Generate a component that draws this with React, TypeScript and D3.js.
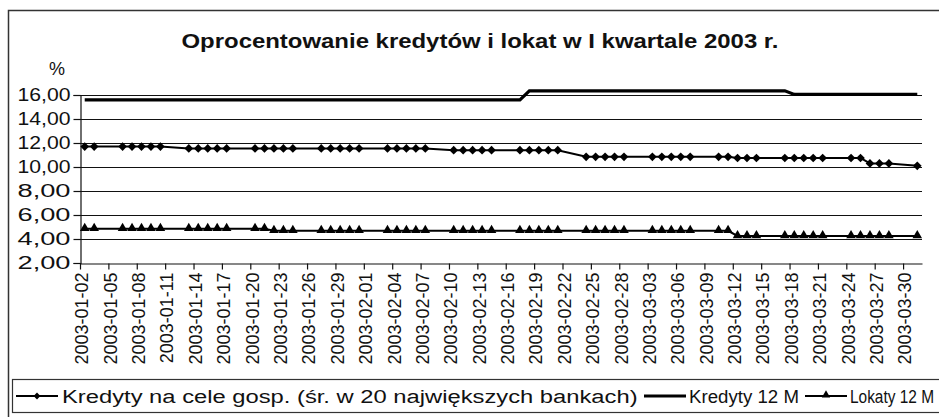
import React, { useRef, useEffect } from "react";
import * as d3 from "d3";

// business days of Q1 2003
const days = [
  "2003-01-02", "2003-01-03", "2003-01-06", "2003-01-07", "2003-01-08", "2003-01-09", "2003-01-10",
  "2003-01-13", "2003-01-14", "2003-01-15", "2003-01-16", "2003-01-17",
  "2003-01-20", "2003-01-21", "2003-01-22", "2003-01-23", "2003-01-24",
  "2003-01-27", "2003-01-28", "2003-01-29", "2003-01-30", "2003-01-31",
  "2003-02-03", "2003-02-04", "2003-02-05", "2003-02-06", "2003-02-07",
  "2003-02-10", "2003-02-11", "2003-02-12", "2003-02-13", "2003-02-14",
  "2003-02-17", "2003-02-18", "2003-02-19", "2003-02-20", "2003-02-21",
  "2003-02-24", "2003-02-25", "2003-02-26", "2003-02-27", "2003-02-28",
  "2003-03-03", "2003-03-04", "2003-03-05", "2003-03-06", "2003-03-07",
  "2003-03-10", "2003-03-11", "2003-03-12", "2003-03-13", "2003-03-14",
  "2003-03-17", "2003-03-18", "2003-03-19", "2003-03-20", "2003-03-21",
  "2003-03-24", "2003-03-25", "2003-03-26", "2003-03-27", "2003-03-28",
  "2003-03-31",
];

const kredytyGosp = [
  11.7, 11.7, 11.7, 11.7, 11.7, 11.7, 11.7,
  11.55, 11.55, 11.55, 11.55, 11.55,
  11.55, 11.55, 11.55, 11.55, 11.55,
  11.55, 11.55, 11.55, 11.55, 11.55,
  11.55, 11.55, 11.55, 11.55, 11.55,
  11.4, 11.4, 11.4, 11.4, 11.4,
  11.4, 11.4, 11.4, 11.4, 11.4,
  10.85, 10.85, 10.85, 10.85, 10.85,
  10.85, 10.85, 10.85, 10.85, 10.85,
  10.85, 10.85, 10.75, 10.75, 10.75,
  10.75, 10.75, 10.75, 10.75, 10.75,
  10.75, 10.75, 10.3, 10.3, 10.3,
  10.1,
];

const kredyty12M = [
  15.6, 15.6, 15.6, 15.6, 15.6, 15.6, 15.6,
  15.6, 15.6, 15.6, 15.6, 15.6,
  15.6, 15.6, 15.6, 15.6, 15.6,
  15.6, 15.6, 15.6, 15.6, 15.6,
  15.6, 15.6, 15.6, 15.6, 15.6,
  15.6, 15.6, 15.6, 15.6, 15.6,
  15.6, 16.35, 16.35, 16.35, 16.35,
  16.35, 16.35, 16.35, 16.35, 16.35,
  16.35, 16.35, 16.35, 16.35, 16.35,
  16.35, 16.35, 16.35, 16.35, 16.35,
  16.35, 16.05, 16.05, 16.05, 16.05,
  16.05, 16.05, 16.05, 16.05, 16.05,
  16.05,
];

const lokaty12M = [
  4.85, 4.85, 4.85, 4.85, 4.85, 4.85, 4.85,
  4.85, 4.85, 4.85, 4.85, 4.85,
  4.85, 4.85, 4.68, 4.68, 4.68,
  4.68, 4.68, 4.68, 4.68, 4.68,
  4.68, 4.68, 4.68, 4.68, 4.68,
  4.68, 4.68, 4.68, 4.68, 4.68,
  4.68, 4.68, 4.68, 4.68, 4.68,
  4.68, 4.68, 4.68, 4.68, 4.68,
  4.68, 4.68, 4.68, 4.68, 4.68,
  4.68, 4.68, 4.25, 4.25, 4.25,
  4.25, 4.25, 4.25, 4.25, 4.25,
  4.25, 4.25, 4.25, 4.25, 4.25,
  4.25,
];

const yTicks = [2, 4, 6, 8, 10, 12, 14, 16];

const title = "Oprocentowanie kredytów i lokat w I kwartale 2003 r.";
const seriesNames = [
  "Kredyty na cele gosp. (śr. w 20 największych bankach)",
  "Kredyty 12 M",
  "Lokaty 12 M",
];

const FONT = "'Liberation Sans', Arial, sans-serif";

const App = () => {
  const svgRef = useRef<SVGSVGElement>(null);

  useEffect(() => {
    const svg = d3.select(svgRef.current);
    svg.selectAll("*").remove();

    const width = 939;
    const height = 417;
    const left = 80, right = 922, top = 95, bottom = 263;

    const parse = d3.utcParse("%Y-%m-%d");
    const dates = days.map((d) => parse(d) as Date);
    const start = parse("2003-01-02") as Date;
    const end = parse("2003-04-01") as Date;

    const x = d3.scaleUtc().domain([start, end]).range([left, right]);
    const y = d3.scaleLinear().domain([2, 16]).range([bottom, top]);
    const xc = (d: Date) => x(d3.utcHour.offset(d, 12));

    svg.attr("width", width).attr("height", height).style("font-family", FONT);

    // outer frame
    svg.append("rect")
      .attr("x", 8.5).attr("y", 10.5)
      .attr("width", 960).attr("height", 440)
      .attr("fill", "#fff").attr("stroke", "#333").attr("stroke-width", 1.5);

    svg.append("text")
      .attr("x", 480).attr("y", 48)
      .attr("text-anchor", "middle")
      .attr("font-size", 21).attr("font-weight", "bold")
      .attr("fill", "#111")
      .attr("textLength", 597).attr("lengthAdjust", "spacingAndGlyphs")
      .text(title);

    svg.append("text")
      .attr("x", 57).attr("y", 75)
      .attr("text-anchor", "middle")
      .attr("font-size", 18).attr("fill", "#111")
      .text("%");

    // gridlines
    svg.append("g")
      .selectAll("line")
      .data(yTicks.filter((t) => t > 2))
      .join("line")
      .attr("x1", left).attr("x2", right)
      .attr("y1", (d) => Math.round(y(d)) + 0.5).attr("y2", (d) => Math.round(y(d)) + 0.5)
      .attr("stroke", "#111").attr("stroke-width", 1.2);

    // y axis
    const yAxis = svg.append("g")
      .attr("transform", `translate(${left + 0.5},0)`)
      .call(
        d3.axisLeft(y)
          .tickValues(yTicks)
          .tickSize(7)
          .tickPadding(3)
          .tickFormat((d) => (d as number).toFixed(2).replace(".", ","))
      );
    yAxis.select(".domain").attr("stroke", "#111").attr("stroke-width", 1.2);
    yAxis.selectAll(".tick line").attr("stroke", "#111").attr("stroke-width", 1.2);
    yAxis.selectAll("text")
      .attr("font-size", 18).attr("font-family", FONT).attr("fill", "#111")
      .attr("textLength", 53).attr("lengthAdjust", "spacingAndGlyphs");

    // x axis
    const xTicks = d3.utcDay.range(start, end, 3);
    const xAxis = svg.append("g")
      .attr("transform", `translate(0,${Math.round(bottom) + 0.5})`)
      .call(
        d3.axisBottom(x)
          .tickValues(xTicks)
          .tickSize(6)
          .tickSizeOuter(0)
          .tickFormat((d) => d3.utcFormat("%Y-%m-%d")(d as Date))
      );
    xAxis.select(".domain").attr("stroke", "#111").attr("stroke-width", 1.2);
    xAxis.selectAll(".tick line").attr("stroke", "#111").attr("stroke-width", 1.2);
    xAxis.selectAll("text")
      .attr("font-size", 18).attr("font-family", FONT).attr("fill", "#111")
      .attr("transform", "rotate(-90)")
      .attr("text-anchor", "end")
      .attr("x", -9).attr("y", 1.5).attr("dy", "0.35em");

    // Kredyty 12 M - thick line, no markers
    const line = (vals: number[]) =>
      d3.line<number>().x((_, i) => xc(dates[i])).y((v) => y(v))(vals);

    svg.append("path")
      .attr("d", line(kredyty12M))
      .attr("fill", "none").attr("stroke", "#000").attr("stroke-width", 3.2);

    // Kredyty na cele gosp. - diamonds
    svg.append("path")
      .attr("d", line(kredytyGosp))
      .attr("fill", "none").attr("stroke", "#000").attr("stroke-width", 2);
    const diamond = d3.symbol().type(d3.symbolDiamond2).size(48);
    svg.append("g")
      .selectAll("path")
      .data(kredytyGosp)
      .join("path")
      .attr("transform", (v, i) => `translate(${xc(dates[i])},${y(v)})`)
      .attr("d", diamond())
      .attr("fill", "#000");

    // Lokaty 12 M - triangles
    svg.append("path")
      .attr("d", line(lokaty12M))
      .attr("fill", "none").attr("stroke", "#000").attr("stroke-width", 2);
    const tri = d3.symbol().type(d3.symbolTriangle).size(40);
    svg.append("g")
      .selectAll("path")
      .data(lokaty12M)
      .join("path")
      .attr("transform", (v, i) => `translate(${xc(dates[i])},${y(v) - 0.5})`)
      .attr("d", tri())
      .attr("fill", "#000");

    // legend (narrow font imitated by horizontal scaling)
    const lg = svg.append("g");
    lg.append("rect")
      .attr("x", 12.5).attr("y", 379.5)
      .attr("width", 960).attr("height", 33)
      .attr("fill", "#fff").attr("stroke", "#333").attr("stroke-width", 1.2);

    const ly = 396;
    const items = [
      { x1: 16, x2: 58, tx: 62, tl: 576, sym: "diamond", w: 2 },
      { x1: 644, x2: 686, tx: 689, tl: 110, sym: "none", w: 3 },
      { x1: 805, x2: 847, tx: 850, tl: 84, sym: "tri", w: 2 },
    ];
    items.forEach((it, i) => {
      lg.append("line")
        .attr("x1", it.x1).attr("x2", it.x2).attr("y1", ly).attr("y2", ly)
        .attr("stroke", "#000").attr("stroke-width", it.w);
      if (it.sym === "diamond") {
        lg.append("path")
          .attr("transform", `translate(${(it.x1 + it.x2) / 2},${ly})`)
          .attr("d", d3.symbol().type(d3.symbolDiamond2).size(30)())
          .attr("fill", "#000");
      } else if (it.sym === "tri") {
        lg.append("path")
          .attr("transform", `translate(${(it.x1 + it.x2) / 2},${ly - 1})`)
          .attr("d", d3.symbol().type(d3.symbolTriangle).size(30)())
          .attr("fill", "#000");
      }
      const t = lg.append("text")
        .attr("font-size", 19).attr("fill", "#111")
        .text(seriesNames[i]);
      const natural = (t.node() as SVGTextElement).getComputedTextLength() || it.tl;
      t.attr("transform", `translate(${it.tx},${ly + 7}) scale(${it.tl / natural},1)`);
    });
  }, []);

  return (
    <svg
      ref={svgRef}
      style={{ display: "block", position: "absolute", left: 0, top: 0 }}
    ></svg>
  );
};

export default App;
